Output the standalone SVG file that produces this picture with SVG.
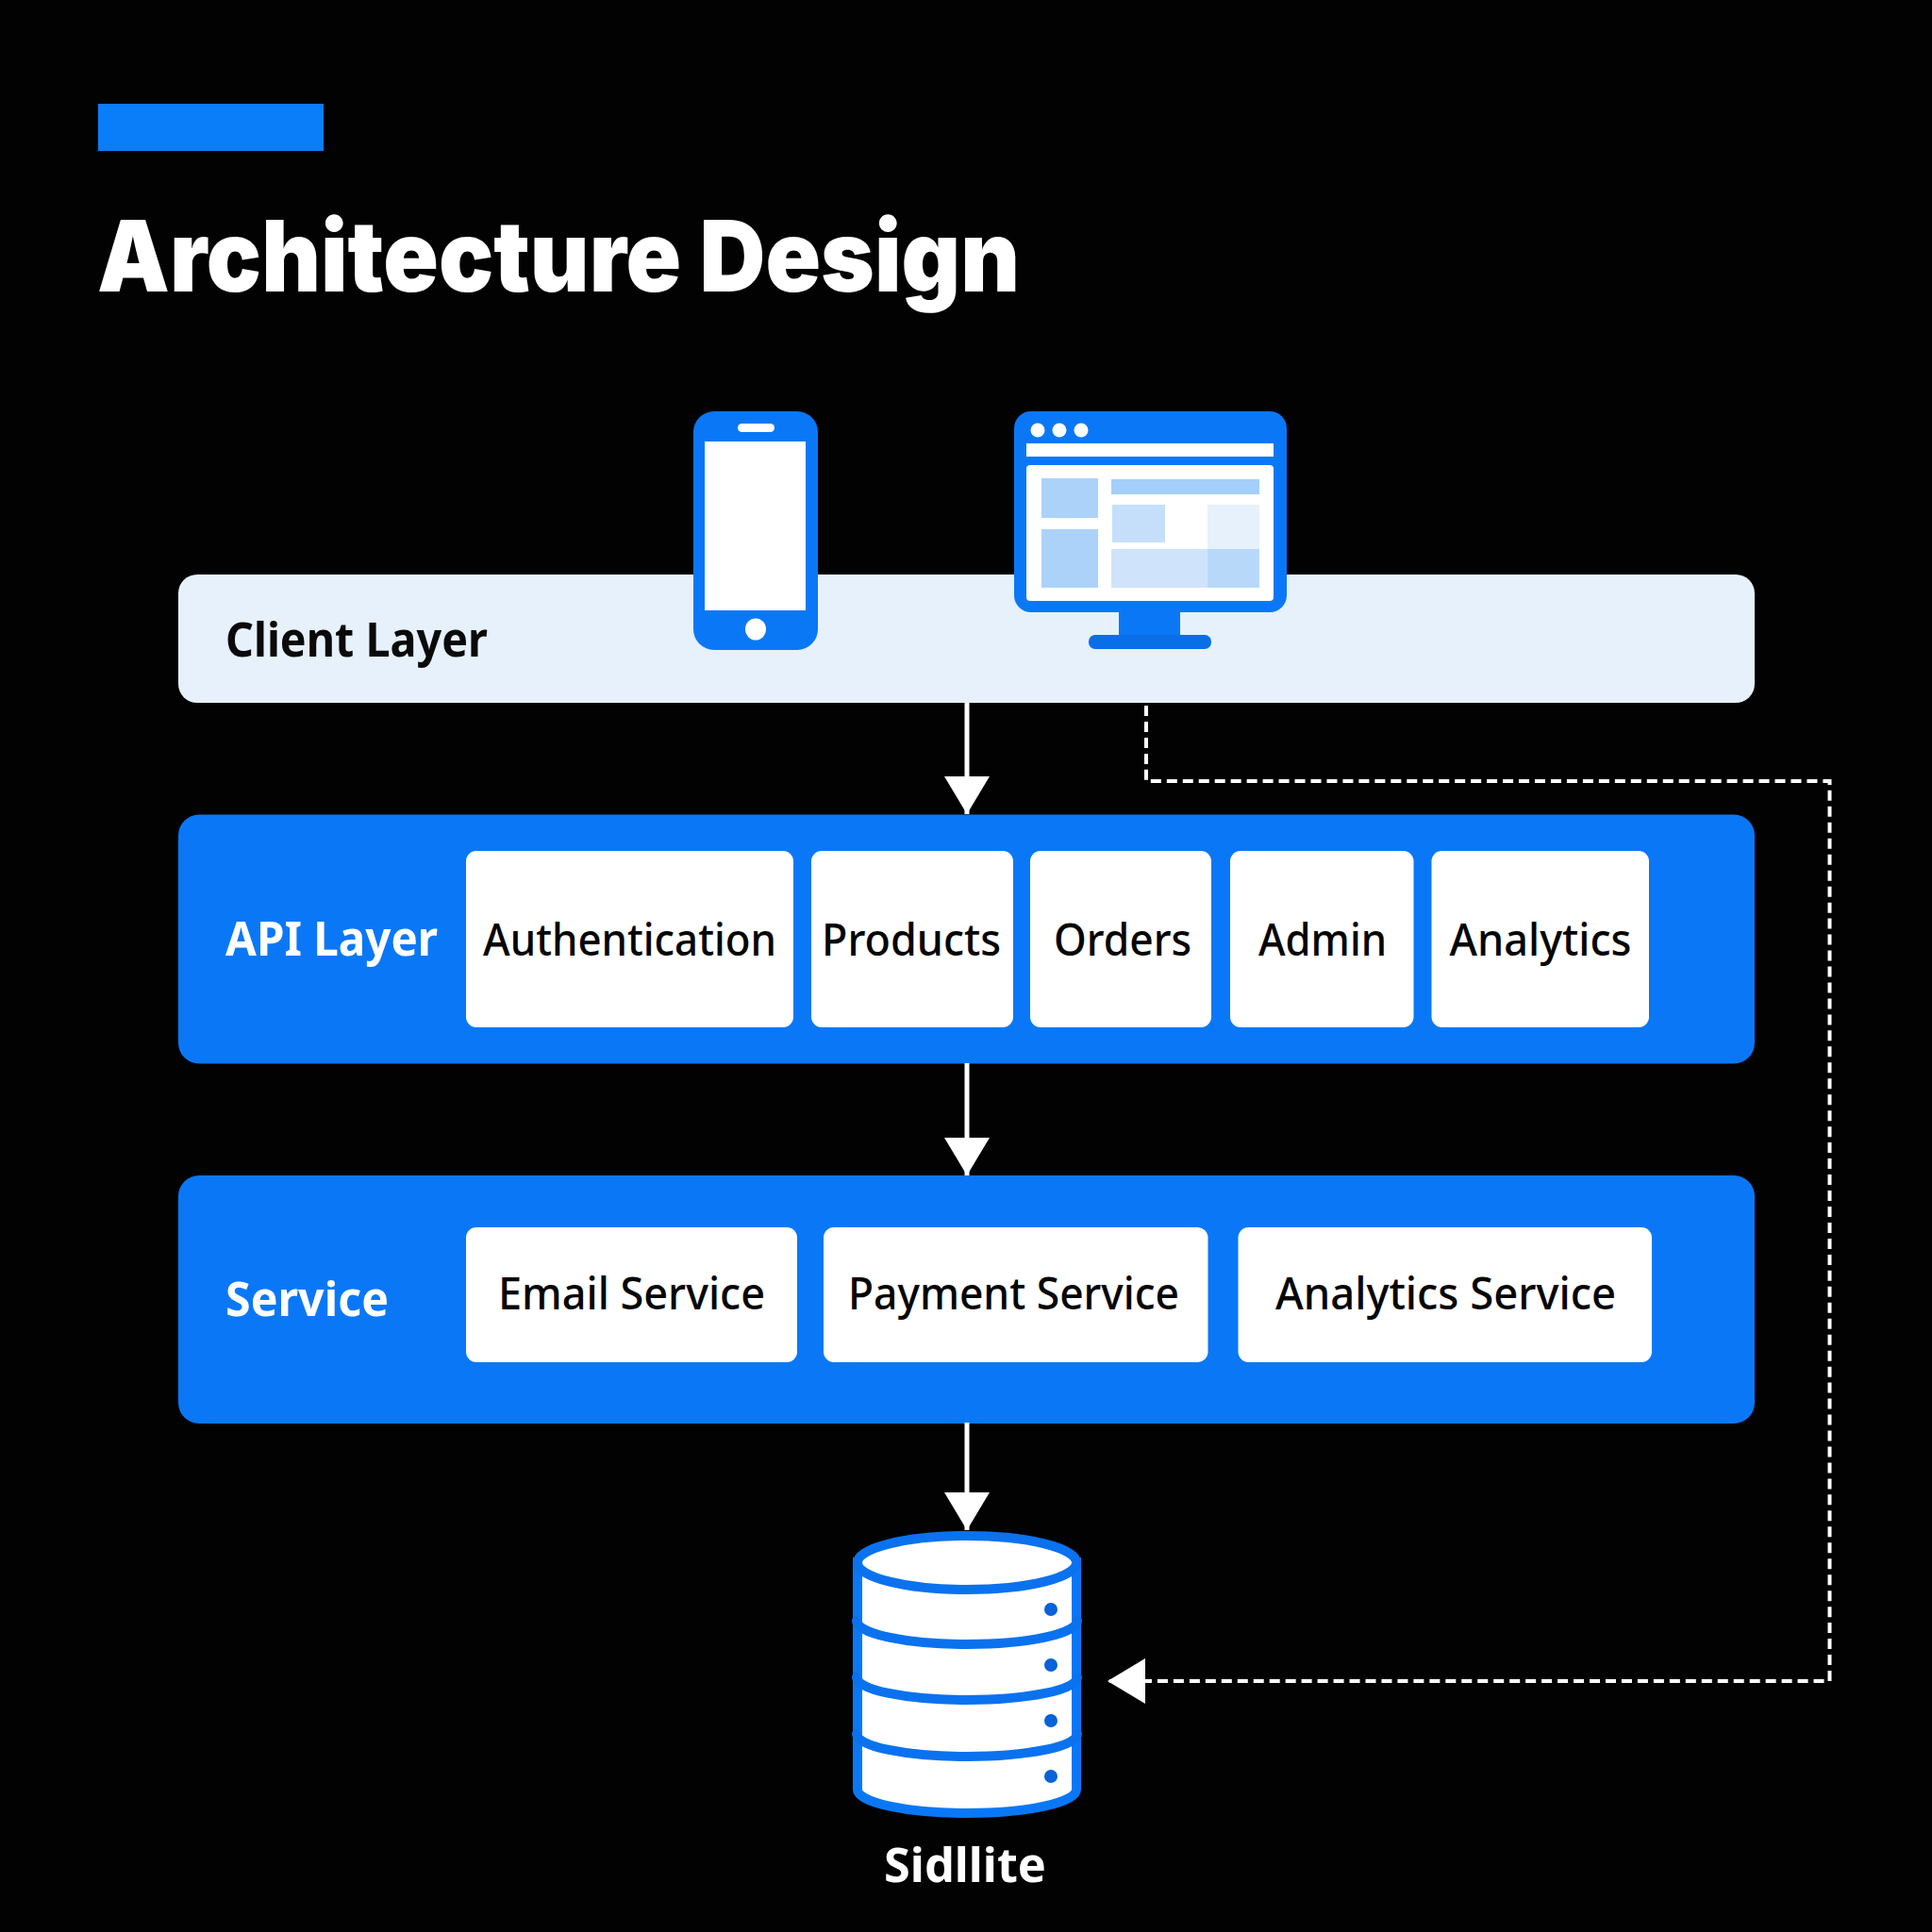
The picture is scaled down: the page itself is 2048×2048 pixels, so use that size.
<svg xmlns="http://www.w3.org/2000/svg" width="2048" height="2048" viewBox="0 0 2048 2048">
<style>
text{font-family:"Noto Sans","Liberation Sans",sans-serif}
.title{font-family:Inter,"Liberation Sans",sans-serif;font-size:105px;font-weight:900;fill:#fff}
.layer{font-size:50px;font-weight:700}
.item{font-size:48px;font-weight:500;fill:#050505}
.panel{fill:#0a78f6}
.box{fill:#fff}
.blue{fill:#0a78f6}
.conn{fill:none;stroke:#fff;stroke-width:5}
.dash{fill:none;stroke:#fff;stroke-width:4;stroke-dasharray:11 5.966}
.band{fill:none;stroke:#0a72ee;stroke-width:10;stroke-linecap:round}
.dot{fill:#0a62d8}
</style>
<defs>
<marker id="head" markerUnits="userSpaceOnUse" markerWidth="42" markerHeight="48" refX="40" refY="24" orient="auto"><path d="M0 0L40 24L0 48Z" fill="#fff"/></marker>
</defs>
<rect width="2048" height="2048" fill="#020203"/>
<g id="title">
<rect x="104" y="110" width="239" height="50" fill="#0a7df8"/>
<text class="title" x="103" y="309" textLength="978" lengthAdjust="spacingAndGlyphs">Architecture Design</text>
</g>
<g id="client-layer">
<rect x="189" y="609" width="1671" height="136" rx="20" fill="#e6f1fb"/>
<text class="layer" x="239" y="696" fill="#0a0a0a" textLength="278" lengthAdjust="spacingAndGlyphs">Client Layer</text>
</g>
<g id="mobile-client">
<rect x="735" y="436" width="132" height="253" rx="22" class="blue"/>
<rect x="747" y="468" width="107" height="179" class="box"/>
<rect x="782" y="449" width="39" height="9" rx="4.500" class="box"/>
<ellipse cx="801" cy="667" rx="11" ry="11.500" class="box"/>
</g>
<g id="web-client">
<rect x="1186" y="640" width="65" height="40" class="blue"/>
<rect x="1154" y="673" width="130" height="15" rx="7" fill="#0a6ee8"/>
<rect x="1075" y="436" width="289" height="213" rx="18" class="blue"/>
<circle cx="1100" cy="456" r="7.500" class="box"/>
<circle cx="1123" cy="456" r="7.500" class="box"/>
<circle cx="1146" cy="456" r="7.500" class="box"/>
<rect x="1088" y="470" width="262" height="14" class="box"/>
<rect x="1088" y="493" width="262" height="144" rx="4" class="box"/>
<rect x="1104" y="507" width="60" height="42" fill="#acd2fa"/>
<rect x="1104" y="561" width="60" height="62" fill="#acd2fa"/>
<rect x="1178" y="508" width="157" height="16" fill="#a4cffa"/>
<rect x="1179" y="535" width="56" height="40" fill="#c5dffb"/>
<rect x="1280" y="535" width="55" height="47" fill="#e6f1fc"/>
<rect x="1178" y="582" width="102" height="41" fill="#cfe4fb"/>
<rect x="1280" y="582" width="55" height="41" fill="#b8d8fa"/>
</g>
<g id="api-layer">
<rect x="189" y="863.500" width="1671" height="264" rx="22" class="panel"/>
<text class="layer" x="239" y="1013" fill="#fff" textLength="225" lengthAdjust="spacingAndGlyphs">API Layer</text>
</g>
<g id="api-authentication"><rect x="494" y="902" width="347" height="187" rx="11" class="box"/><text class="item" x="512" y="1013" textLength="311" lengthAdjust="spacingAndGlyphs">Authentication</text></g>
<g id="api-products"><rect x="860" y="902" width="214" height="187" rx="11" class="box"/><text class="item" x="871" y="1013" textLength="190" lengthAdjust="spacingAndGlyphs">Products</text></g>
<g id="api-orders"><rect x="1092" y="902" width="192" height="187" rx="11" class="box"/><text class="item" x="1117" y="1013" textLength="146" lengthAdjust="spacingAndGlyphs">Orders</text></g>
<g id="api-admin"><rect x="1304" y="902" width="194.500" height="187" rx="11" class="box"/><text class="item" x="1334" y="1013" textLength="136" lengthAdjust="spacingAndGlyphs">Admin</text></g>
<g id="api-analytics"><rect x="1517.500" y="902" width="230.500" height="187" rx="11" class="box"/><text class="item" x="1536.500" y="1013" textLength="193" lengthAdjust="spacingAndGlyphs">Analytics</text></g>
<g id="service-layer">
<rect x="189" y="1246" width="1671" height="263" rx="22" class="panel"/>
<text class="layer" x="239" y="1395" fill="#fff" textLength="173" lengthAdjust="spacingAndGlyphs">Service</text>
</g>
<g id="service-email"><rect x="494" y="1301" width="351" height="143" rx="11" class="box"/><text class="item" x="528" y="1388" textLength="283" lengthAdjust="spacingAndGlyphs">Email Service</text></g>
<g id="service-payment"><rect x="873" y="1301" width="407.500" height="143" rx="11" class="box"/><text class="item" x="899" y="1388" textLength="351" lengthAdjust="spacingAndGlyphs">Payment Service</text></g>
<g id="service-analytics"><rect x="1312.500" y="1301" width="438.500" height="143" rx="11" class="box"/><text class="item" x="1352" y="1388" textLength="361" lengthAdjust="spacingAndGlyphs">Analytics Service</text></g>
<g id="database">
<path d="M909 1656V1897A116 25 0 0 0 1141 1897V1656Z" fill="#fff" stroke="#0a78f6" stroke-width="10"/>
<path class="band" d="M908 1718A117 25 0 0 0 1142 1718"/>
<path class="band" d="M908 1778A117 24 0 0 0 1142 1778"/>
<path class="band" d="M908 1838A117 24 0 0 0 1142 1838"/>
<ellipse cx="1025" cy="1656.500" rx="116" ry="28.500" fill="#fff" stroke="#0a72ee" stroke-width="10"/>
<circle cx="1114" cy="1706" r="7" class="dot"/>
<circle cx="1114" cy="1765" r="7" class="dot"/>
<circle cx="1114" cy="1824" r="7" class="dot"/>
<circle cx="1114" cy="1883" r="7" class="dot"/>
<text x="937" y="1995" font-size="50" font-weight="700" fill="#fff" textLength="172" lengthAdjust="spacingAndGlyphs">Sidllite</text>
</g>
<g id="connectors">
<path class="conn" d="M1025 745V863" marker-end="url(#head)"/>
<path class="conn" d="M1025 1127V1246" marker-end="url(#head)"/>
<path class="conn" d="M1025 1508V1622" marker-end="url(#head)"/>
<path class="dash" d="M1215 748V828H1939.500V1782H1174" marker-end="url(#head)"/>
</g>
</svg>
